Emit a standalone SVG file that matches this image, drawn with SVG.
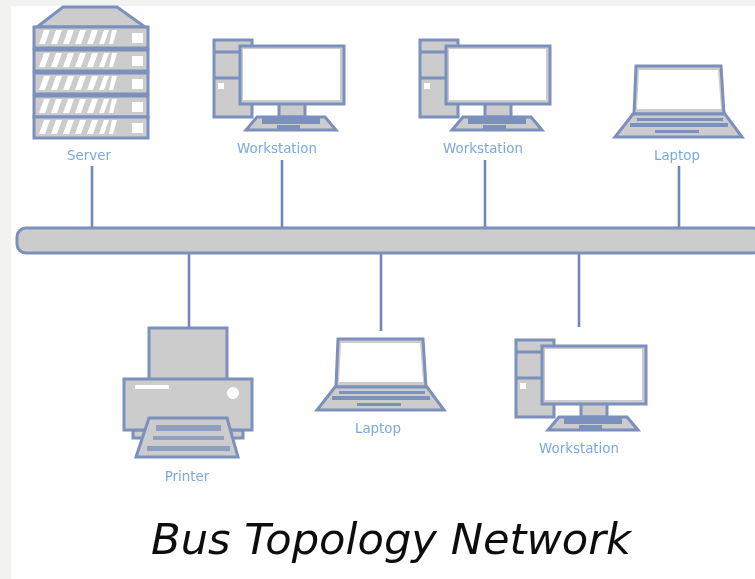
<svg xmlns="http://www.w3.org/2000/svg" xmlns:xlink="http://www.w3.org/1999/xlink" width="755" height="579" viewBox="0 0 755 579">
<style>
.s{stroke:#7b90bd;stroke-width:3;fill:#cccccc}
.t{stroke:#7b90bd;stroke-width:3;fill:none}
.w{fill:#ffffff;stroke:none}
.f{fill:#7b90bd;stroke:none}
.l{font-family:"DejaVu Sans",sans-serif;font-size:13.4px;fill:#7aa8e2;text-anchor:middle}
.title{font-family:"DejaVu Sans",sans-serif;font-style:oblique;font-size:43.2px;fill:#111111}
.c{stroke:#7088b8;stroke-width:2.6;fill:none}
</style>
<defs>
<filter id="b" x="-5%" y="-5%" width="110%" height="110%"><feGaussianBlur stdDeviation="0.7"/></filter>
<filter id="bt" x="-5%" y="-5%" width="110%" height="110%"><feGaussianBlur stdDeviation="0.5"/></filter>
<g id="ws">
<rect class="s" x="214" y="40" width="38" height="77"/>
<path class="t" d="M214 52H240M214 78H240"/>
<rect class="w" x="218" y="83" width="6" height="6"/>
<rect class="s" x="279" y="103" width="26" height="14"/>
<rect class="s" x="240" y="46" width="104" height="58"/>
<rect class="w" x="243" y="49" width="97" height="51"/>
<path class="s" d="M257 117H325L336 130H246Z"/>
<path class="f" d="M262 118H320V124H262ZM277 125H300V131H277Z"/>
</g>
<g id="lap">
<path class="s" d="M636 66H721L724 114H634Z"/>
<path class="w" d="M639 70H718L721 109H637Z"/>
<path class="s" d="M633 114H725L742 137H615Z"/>
<path class="f" d="M637 118H723V121H637ZM630 123H728V127H630ZM655 130H699V133H655Z"/>
</g>
<g id="rack">
<rect class="s" x="34" y="0" width="114" height="21"/>
<path class="w" d="M44 3h6l-5 14h-6ZM56 3h6l-5 14h-6ZM68 3h6l-5 14h-6ZM80 3h6l-5 14h-6ZM92 3h6l-5 14h-6ZM104 3h5l-5 14h-5ZM112 3h5l-4 14h-4Z"/>
<rect class="w" x="132" y="6" width="11" height="10"/>
</g>
</defs>
<rect width="755" height="579" fill="#f2f2f0"/>
<rect x="11" y="6" width="744" height="573" fill="#ffffff"/>
<g filter="url(#b)">
<g id="connectors">
<path class="c" d="M92 166V228M282 160V228M485 160V228M679 166V228M189 253V328M381 253V331M579 253V327"/>
</g>
<g id="bus"><rect class="s" x="17" y="228" width="745" height="25" rx="9"/></g>
<g id="server">
<path class="s" d="M63 7H117L145 27H37Z"/>
<use xlink:href="#rack" y="27"/>
<use xlink:href="#rack" y="50"/>
<use xlink:href="#rack" y="73"/>
<use xlink:href="#rack" y="96"/>
<use xlink:href="#rack" y="117"/>
<text class="l" x="89" y="160">Server</text>
</g>
<g id="workstation1"><use xlink:href="#ws"/><text class="l" x="277" y="153">Workstation</text></g>
<g id="workstation2"><use xlink:href="#ws" x="206"/><text class="l" x="483" y="153">Workstation</text></g>
<g id="laptop1"><use xlink:href="#lap"/><text class="l" x="677" y="160">Laptop</text></g>
<g id="printer">
<rect class="s" x="149" y="328" width="78" height="52"/>
<path class="s" d="M133 430V438H243V430Z"/>
<rect class="s" x="124" y="379" width="128" height="51"/>
<rect class="w" x="135" y="385" width="34" height="4"/>
<circle class="w" cx="233" cy="393" r="6"/>
<path class="s" d="M149 418H227L238 457H136Z"/>
<path class="f" d="M156 425H221V431H156ZM153 436H224V440H153ZM147 446H230V451H147Z" opacity=".75"/>
<text class="l" x="187" y="481">Printer</text>
</g>
<g id="laptop2"><use xlink:href="#lap" x="-298" y="273"/><text class="l" x="378" y="433">Laptop</text></g>
<g id="workstation3"><use xlink:href="#ws" x="302" y="300"/><text class="l" x="579" y="453">Workstation</text></g>
</g>
<text class="title" x="151" y="554" filter="url(#bt)">Bus Topology Network</text>
</svg>
